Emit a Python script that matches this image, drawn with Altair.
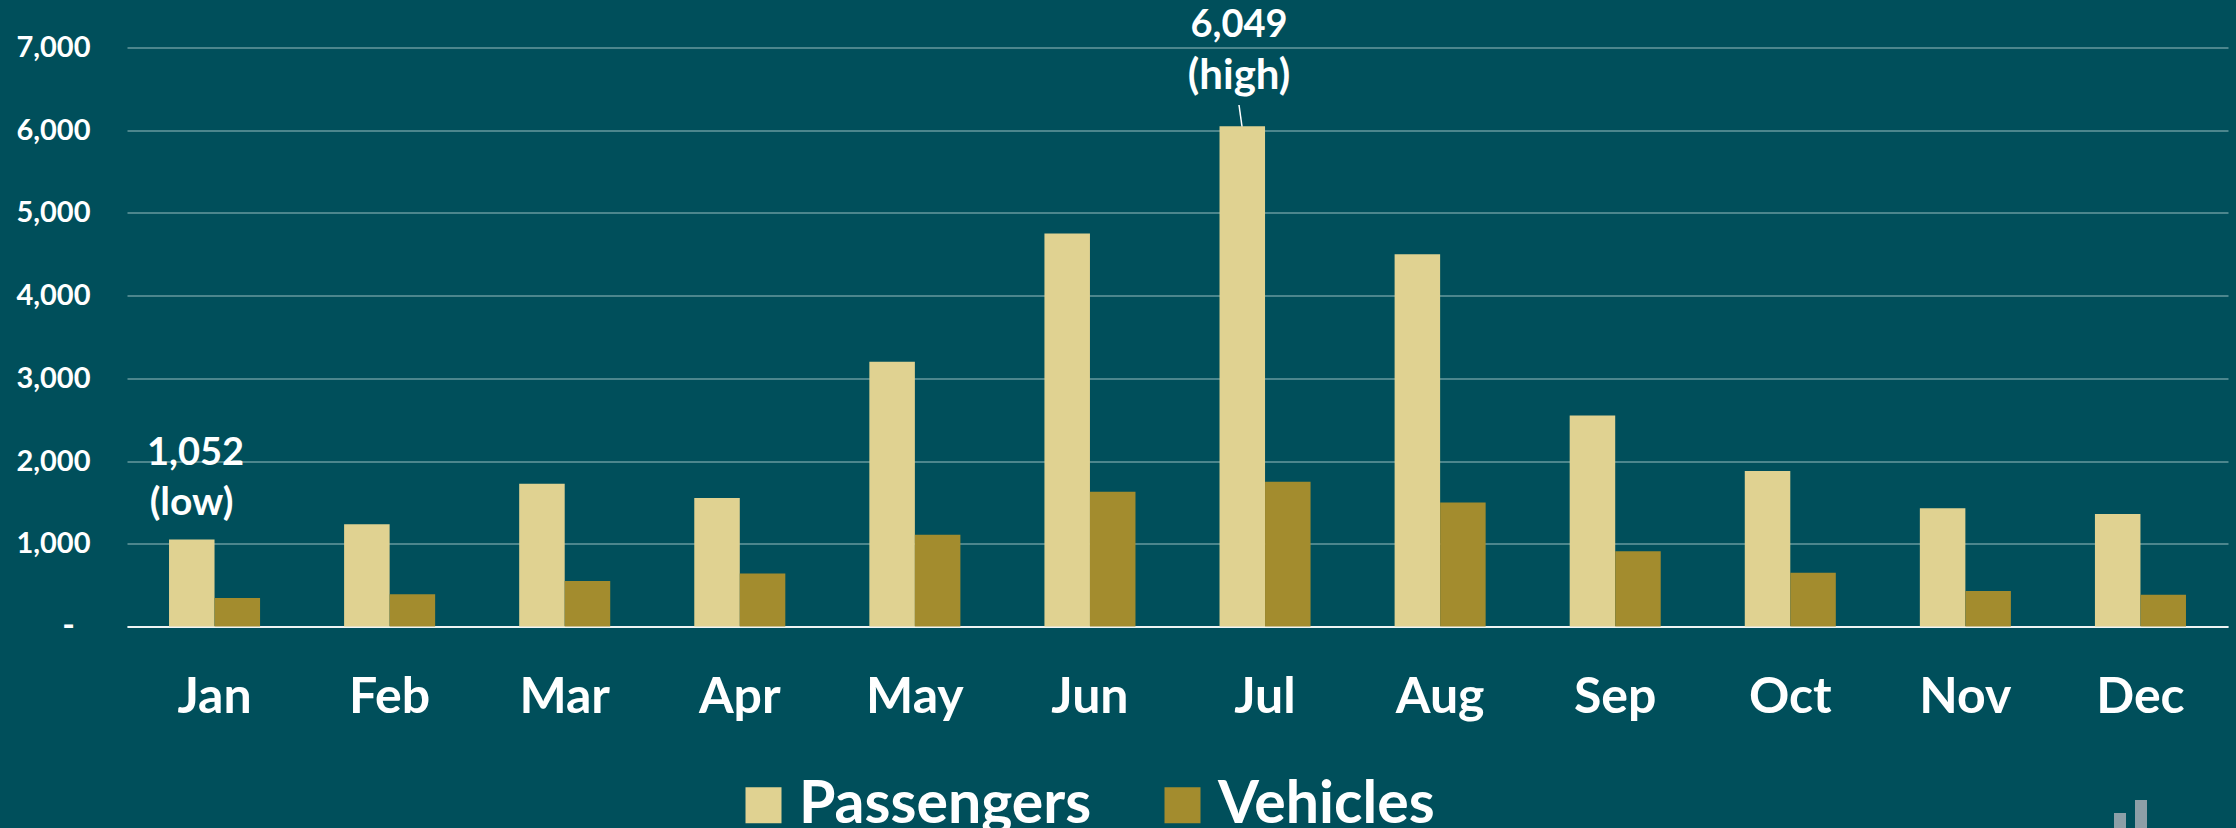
import altair as alt
import pandas as pd

months = ["Jan", "Feb", "Mar", "Apr", "May", "Jun", "Jul", "Aug", "Sep", "Oct", "Nov", "Dec"]
passengers = [1052, 1235, 1725, 1555, 3200, 4750, 6049, 4500, 2550, 1880, 1430, 1360]
vehicles = [345, 390, 550, 640, 1110, 1630, 1750, 1500, 910, 650, 430, 385]
series = ["Passengers", "Vehicles"]
y_ticks = [0, 1000, 2000, 3000, 4000, 5000, 6000, 7000]
zero_label = [{"value": 0, "text": "-"}]
notes_high = [{"month": "Jul", "value": 6049, "line1": "6,049", "line2": "(high)"}]
notes_low = [{"month": "Jan", "value": 1052, "line1": "1,052", "line2": "(low)"}]

BG = "#004f5b"
FONT = "Lato"

df = pd.DataFrame(
    [{"month": m, "series": series[0], "value": p} for m, p in zip(months, passengers)]
    + [{"month": m, "series": series[1], "value": v} for v, m in zip(vehicles, months)]
)

x_scale = alt.Scale(domain=months, paddingInner=0.48, paddingOuter=0.24)
y_scale = alt.Scale(domain=[0, 7000], nice=False)

bars = alt.Chart(df).mark_bar(opacity=1).encode(
    x=alt.X(
        "month:N", scale=x_scale, sort=months, title=None,
        axis=alt.Axis(
            labelAngle=0, labelFont=FONT, labelFontWeight="bold", labelFontSize=50,
            labelColor="white", labelPadding=46, ticks=False, grid=False,
            domain=True, domainColor="#eef3f3", domainWidth=2,
        ),
    ),
    xOffset=alt.XOffset("series:N", sort=series),
    y=alt.Y(
        "value:Q", scale=y_scale, title=None,
        axis=alt.Axis(
            values=y_ticks, labelFont=FONT, labelFontWeight="bold", labelFontSize=29,
            labelColor="white", labelPadding=37, ticks=False, domain=False,
            grid=True, gridColor="#66989e", gridWidth=1.6,
            labelExpr="datum.value === 0 ? '' : format(datum.value, ',')",
        ),
    ),
    color=alt.Color(
        "series:N", sort=series,
        scale=alt.Scale(domain=series, range=["#e0d291", "#a38c2e"]),
        legend=alt.Legend(
            orient="none", legendX=607, legendY=728, direction="horizontal", title=None,
            symbolType="square", symbolSize=1296, symbolStrokeWidth=0, symbolOpacity=1,
            labelFont=FONT, labelFontWeight="bold", labelFontSize=59, labelColor="white",
            labelOffset=6, columnPadding=61, labelLimit=400,
        ),
    ),
)


def note(rows, field, dx, dy, size=38):
    return alt.Chart(alt.Data(values=rows)).mark_text(
        font=FONT, fontWeight="bold", fontSize=size, color="white",
        baseline="alphabetic", align="center", dx=dx, dy=dy,
    ).encode(
        x=alt.X("month:N", scale=x_scale, sort=months),
        y=alt.Y("value:Q", scale=y_scale),
        text=alt.Text(f"{field}:N"),
    )


high1 = note(notes_high, "line1", -26, -89)
high2 = note(notes_high, "line2", -26, -37, 42)
low1 = note(notes_low, "line1", -19, -74)
low2 = note(notes_low, "line2", -23, -24, 39)

zero = alt.Chart(alt.Data(values=zero_label)).mark_text(
    font=FONT, fontWeight="bold", fontSize=34, color="white", align="right", baseline="middle",
).encode(
    x=alt.value(-52),
    y=alt.Y("value:Q", scale=y_scale),
    text=alt.Text("text:N"),
)

leader = alt.Chart(alt.Data(values=[{"a": 1}])).mark_rule(color="white", strokeWidth=1.5).encode(
    x=alt.value(1112), x2=alt.value(1115), y=alt.value(57.5), y2=alt.value(79),
)

logo_rows = [{"a": 1}]
logo = alt.layer(*[
    alt.Chart(alt.Data(values=logo_rows)).mark_rect(color="#8d9fa7", clip=False).encode(
        x=alt.value(x0), x2=alt.value(x1), y=alt.value(y0), y2=alt.value(800),
    )
    for x0, x1, y0 in [(1987, 1999, 765.5), (2008, 2020, 752.5)]
])

chart = alt.layer(bars, zero, high1, high2, low1, low2, leader, logo).properties(
    width=2101,
    height=579,
    background=BG,
    padding={"left": 127, "top": 47.5, "right": 8, "bottom": 201.5},
    autosize=alt.AutoSizeParams(type="none"),
).configure_view(stroke=None)

chart.save("out.html", embed_options={
    "renderer": "svg", "actions": False,
    "defaultStyle": "html,body{margin:0!important;padding:0;overflow:hidden;background:#004f5b}"
                    ".vega-embed svg{display:block}",
})
